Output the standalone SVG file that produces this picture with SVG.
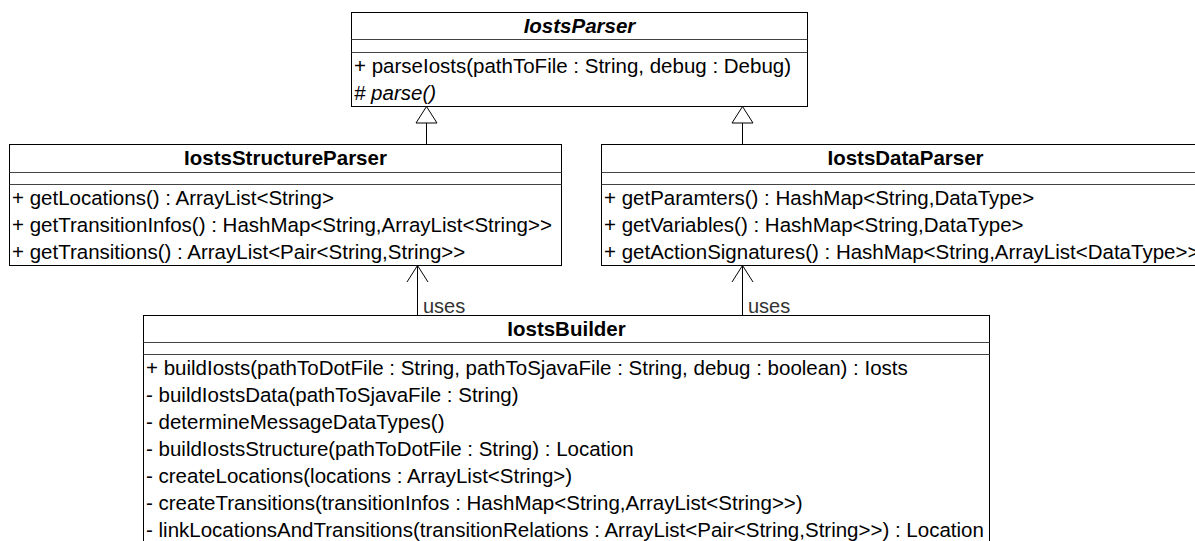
<svg xmlns="http://www.w3.org/2000/svg" width="1195" height="541" viewBox="0 0 1195 541">
<style>
.box{fill:#fff;stroke:#000;stroke-width:1}
.sep{stroke:#444;stroke-width:1}
.t{font-family:"Liberation Sans",Arial,sans-serif;font-size:20.5px;fill:#000}
.title{font-weight:bold;text-anchor:middle}
.it{font-style:italic}
.lbl{font-family:"Liberation Sans",Arial,sans-serif;font-size:20px;fill:#333}
.edge{stroke:#000;stroke-width:1;fill:none}
.tri{fill:#fff;stroke:#000;stroke-width:1}
</style>
<rect width="1195" height="541" fill="#fff"/>
<g id="connectors">
  <line class="edge" x1="426.5" y1="123" x2="426.5" y2="144"/>
  <polygon class="tri" points="426.5,106.5 416,123 437,123"/>
  <line class="edge" x1="742.5" y1="123" x2="742.5" y2="144"/>
  <polygon class="tri" points="742.5,106.5 732,123 753,123"/>
  <line class="edge" x1="417.5" y1="265.5" x2="417.5" y2="315"/>
  <polyline class="edge" points="407,282 417.5,265.5 428,282"/>
  <text class="lbl" x="423" y="313">uses</text>
  <line class="edge" x1="742.5" y1="265.5" x2="742.5" y2="315"/>
  <polyline class="edge" points="732,282 742.5,265.5 753,282"/>
  <text class="lbl" x="748" y="313">uses</text>
</g>
<g id="IostsParser">
  <rect class="box" x="351.5" y="12.5" width="456" height="94"/>
  <line class="sep" x1="351.5" y1="39.5" x2="807.5" y2="39.5"/>
  <line class="sep" x1="351.5" y1="52.5" x2="807.5" y2="52.5"/>
  <text class="t title it" x="579.5" y="33">IostsParser</text>
  <text class="t" x="354" y="73">+ parseIosts(pathToFile : String, debug : Debug)</text>
  <text class="t it" x="354" y="100"># parse()</text>
</g>
<g id="IostsStructureParser">
  <rect class="box" x="9.5" y="144.5" width="552" height="121"/>
  <line class="sep" x1="9.5" y1="172.5" x2="561.5" y2="172.5"/>
  <line class="sep" x1="9.5" y1="184.5" x2="561.5" y2="184.5"/>
  <text class="t title" x="285.5" y="165">IostsStructureParser</text>
  <text class="t" x="12" y="205">+ getLocations() : ArrayList&lt;String&gt;</text>
  <text class="t" x="12" y="232">+ getTransitionInfos() : HashMap&lt;String,ArrayList&lt;String&gt;&gt;</text>
  <text class="t" x="12" y="259">+ getTransitions() : ArrayList&lt;Pair&lt;String,String&gt;&gt;</text>
</g>
<g id="IostsDataParser">
  <rect class="box" x="601.5" y="144.5" width="608" height="121"/>
  <line class="sep" x1="601.5" y1="172.5" x2="1209.5" y2="172.5"/>
  <line class="sep" x1="601.5" y1="184.5" x2="1209.5" y2="184.5"/>
  <text class="t title" x="905.5" y="165">IostsDataParser</text>
  <text class="t" x="604" y="205">+ getParamters() : HashMap&lt;String,DataType&gt;</text>
  <text class="t" x="604" y="232">+ getVariables() : HashMap&lt;String,DataType&gt;</text>
  <text class="t" x="604" y="259">+ getActionSignatures() : HashMap&lt;String,ArrayList&lt;DataType&gt;&gt;</text>
</g>
<g id="IostsBuilder">
  <rect class="box" x="143.5" y="315.5" width="846" height="240"/>
  <line class="sep" x1="143.5" y1="342.5" x2="989.5" y2="342.5"/>
  <line class="sep" x1="143.5" y1="354.5" x2="989.5" y2="354.5"/>
  <text class="t title" x="566.5" y="336">IostsBuilder</text>
  <text class="t" x="146" y="375">+ buildIosts(pathToDotFile : String, pathToSjavaFile : String, debug : boolean) : Iosts</text>
  <text class="t" x="146" y="402">- buildIostsData(pathToSjavaFile : String)</text>
  <text class="t" x="146" y="429">- determineMessageDataTypes()</text>
  <text class="t" x="146" y="456">- buildIostsStructure(pathToDotFile : String) : Location</text>
  <text class="t" x="146" y="483">- createLocations(locations : ArrayList&lt;String&gt;)</text>
  <text class="t" x="146" y="510">- createTransitions(transitionInfos : HashMap&lt;String,ArrayList&lt;String&gt;&gt;)</text>
  <text class="t" x="146" y="537">- linkLocationsAndTransitions(transitionRelations : ArrayList&lt;Pair&lt;String,String&gt;&gt;) : Location</text>
</g>
</svg>
